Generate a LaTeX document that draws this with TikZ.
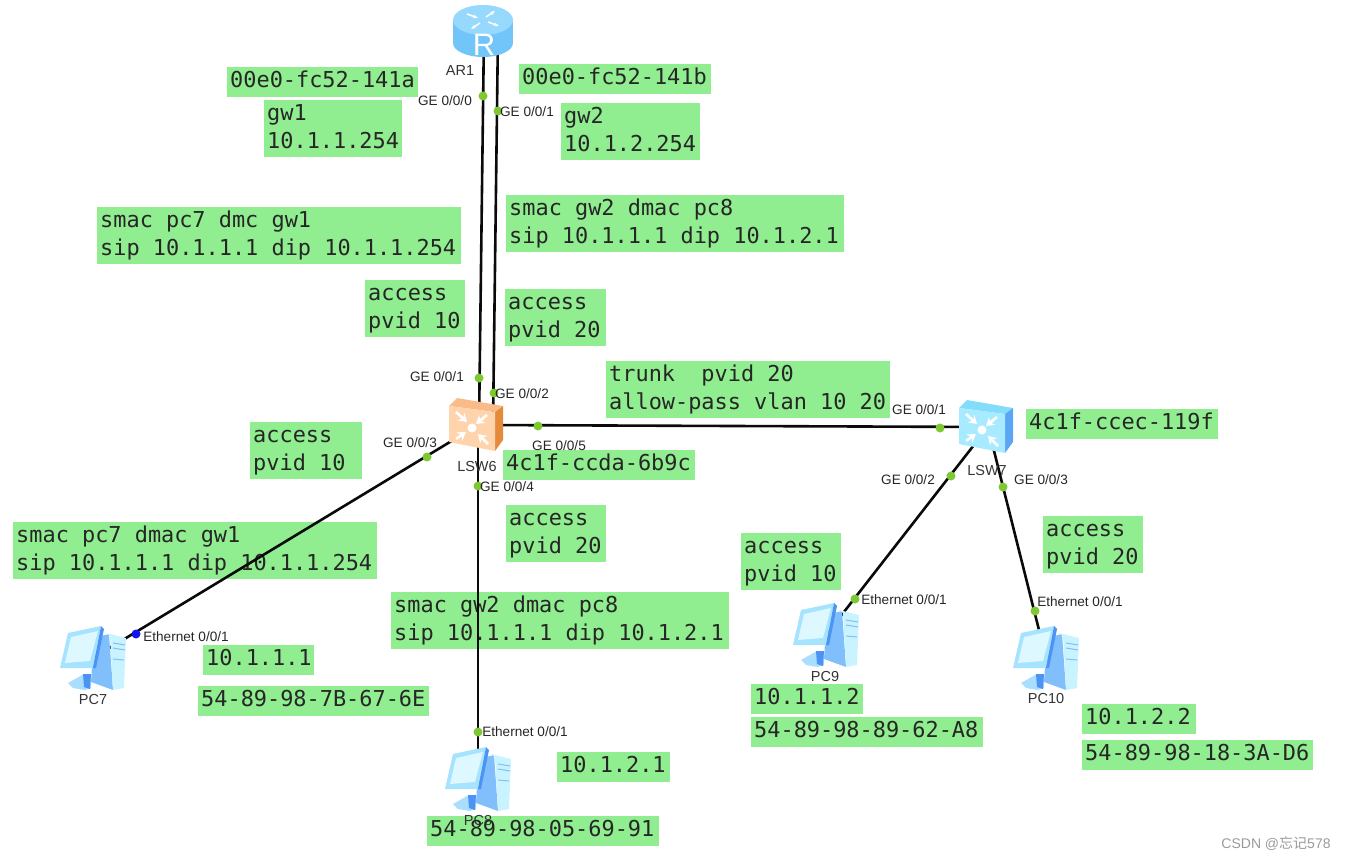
\documentclass[tikz,border=0pt]{standalone}
\usepackage{fontspec}
\setmainfont{Liberation Sans}
\newfontfamily\notefont[Scale=2.19]{DejaVu Sans Mono}
\newfontfamily\cjkfont{Noto Sans CJK SC}
\usetikzlibrary{arrows.meta}
\definecolor{notegreen}{HTML}{90EE90}
\definecolor{portgreen}{HTML}{7EC832}
\definecolor{portblue}{HTML}{1414E6}
\definecolor{linkblack}{HTML}{0A0A0A}
\definecolor{labelgray}{HTML}{9A9A9A}
\definecolor{routertop}{HTML}{96D9FC}
\definecolor{routerbody}{HTML}{72C5F8}
\definecolor{pcframe}{HTML}{A5E3FF}
\definecolor{pcscreen}{HTML}{DDF8FF}
\definecolor{pcedge}{HTML}{4D93F3}
\definecolor{pcside}{HTML}{80BFFB}
\definecolor{pcfront}{HTML}{C9F3FF}
\definecolor{pcbase}{HTML}{A9DEFF}
\definecolor{orfront}{HTML}{FFD3AC}
\definecolor{ortop}{HTML}{F9BC88}
\definecolor{orside}{HTML}{E58A3A}
\definecolor{cyfront}{HTML}{A8EAFF}
\definecolor{cytop}{HTML}{84DCFB}
\definecolor{cyside}{HTML}{5BA6F7}
\newcommand{\notestrut}{\vrule height 18pt depth 7pt width 0pt\relax}

\begin{document}
\begin{tikzpicture}[
    x=1pt, y=-1pt,
    note/.style={fill=notegreen, text=black!85, anchor=north west, align=flush left, text width=#1, inner xsep=3pt, inner ysep=0pt,
      font=\notefont\fontsize{10}{28}\selectfont, execute at begin node=\notestrut, execute at end node=\notestrut},
    oneline/.style={minimum height=30pt},
    twoline/.style={minimum height=57pt},
    device/.style={inner sep=0pt, minimum width=#1, minimum height=54pt},
    link/.style={draw=linkblack, line width=2.6pt},
    port/.style={circle, fill=portgreen, inner sep=0pt, minimum size=9pt},
    portlabel/.style={font=\fontsize{13.6}{15}\selectfont, text=black!85, inner sep=0pt},
    devlabel/.style={font=\fontsize{14.5}{16}\selectfont, text=black!80, inner sep=0pt},
    pics/routericon/.style={code={
      \fill[routerbody] (-30,-11) rectangle (30,12);
      \fill[routerbody] (0,12) ellipse[x radius=30, y radius=14];
      \fill[routertop] (0,-11) ellipse[x radius=30, y radius=15];
      \draw[white, line width=1.5pt, -{Stealth[length=5pt]}] (-16,-17) -- (-5,-13);
      \draw[white, line width=1.5pt, -{Stealth[length=5pt]}] (5,-9) -- (16,-5);
      \draw[white, line width=1.5pt, -{Stealth[length=5pt]}] (3,-14) -- (12,-20);
      \draw[white, line width=1.5pt, -{Stealth[length=5pt]}] (-3,-8) -- (-12,-2);
      \node[text=white, inner sep=0pt, font=\fontsize{31}{31}\selectfont] (r_mark) at (1,14) {R};
    }},
    pics/switchicon/.style n args={3}{code={
      \fill[#2] (-29,-19) -- (-21,-27) -- (25,-19) -- (17,-13) -- cycle;
      \fill[#3] (17,-13) -- (25,-19) -- (25,15) -- (17,26) -- cycle;
      \fill[#1] (-29,-19) -- (17,-13) -- (17,26) -- (-29,17) -- cycle;
      \draw[white, line width=2.6pt, -{Stealth[length=8pt, width=10pt]}] (-22,-13) -- (-11,-3);
      \draw[white, line width=2.6pt, -{Stealth[length=8pt, width=10pt]}] (9,-10) -- (-2,-1);
      \draw[white, line width=2.6pt, -{Stealth[length=8pt, width=10pt]}] (-22,14) -- (-12,7);
      \draw[white, line width=2.6pt, -{Stealth[length=8pt, width=10pt]}] (10,19) -- (0,9);
      \fill[white] (-6,3) circle[radius=4.5];
    }},
    pics/pcicon/.style={code={
      \fill[pcside] (8,-22) -- (16,-24) -- (20,32) -- (-2,24) -- (-1,8) -- cycle;
      \fill[pcfront] (13,-25) -- (33,-20) -- (31,30) -- (20,32) -- (17,-22) -- cycle;
      \draw[pcside, line width=1pt] (20,-15) -- (32,-13) (20,-10) -- (32,-8) (20,1) -- (31,2);
      \fill[pcbase] (-25,25) -- (-9,16) -- (-2,16) -- (-2,30) -- (-8,32) -- (-20,30) -- cycle;
      \fill[pcedge] (-10,16) -- (-2,16) -- (-3,31) -- (-9,29) -- cycle;
      \fill[pcframe] (-25,-25) -- (8,-32) -- (0,10) -- (-33,10) -- cycle;
      \fill[pcscreen] (-22,-21) -- (5,-27) -- (-3,3) -- (-28,5) -- cycle;
      \fill[pcedge] (8,-32) -- (11,-29) -- (3,10) -- (0,10) -- cycle;
    }}
  ]
    \useasboundingbox (0,0) rectangle (1346,861);

    % green notes
    \node[note=185pt, oneline] (mac_gw1) at (227,67) {00e0-fc52-141a};
    \node[note=132pt, twoline] (ip_gw1) at (264,100) {gw1\\10.1.1.254};
    \node[note=186pt, oneline] (mac_gw2) at (519,64) {00e0-fc52-141b};
    \node[note=133pt, twoline] (ip_gw2) at (561,103) {gw2\\10.1.2.254};
    \node[note=358pt, twoline] (frame_up) at (97,207) {smac pc7 dmc gw1\\sip 10.1.1.1 dip 10.1.1.254};
    \node[note=332pt, twoline] (frame_back) at (506,195) {smac gw2 dmac pc8\\sip 10.1.1.1 dip 10.1.2.1};
    \node[note=94pt, twoline] (vlan_g1) at (365,280) {access\\pvid 10};
    \node[note=95pt, twoline] (vlan_g2) at (505,289) {access\\pvid 20};
    \node[note=278pt, twoline] (vlan_g5) at (606,361) {trunk\ \ pvid 20\\allow-pass vlan 10 20};
    \node[note=186pt, oneline] (mac_lsw7) at (1026,409) {4c1f-ccec-119f};
    \node[note=106pt, twoline] (vlan_g3) at (250,422) {access\\pvid 10};
    \node[note=186pt, oneline] (mac_lsw6) at (503,450) {4c1f-ccda-6b9c};
    \node[note=94pt, twoline] (vlan_g4) at (506,505) {access\\pvid 20};
    \node[note=358pt, twoline] (frame_pc7) at (13,522) {smac pc7 dmac gw1\\sip 10.1.1.1 dip 10.1.1.254};
    \node[note=94pt, twoline] (vlan_pc9) at (741,533) {access\\pvid 10};
    \node[note=94pt, twoline] (vlan_pc10) at (1043,516) {access\\pvid 20};
    \node[note=332pt, twoline] (frame_pc8) at (391,592) {smac gw2 dmac pc8\\sip 10.1.1.1 dip 10.1.2.1};
    \node[note=105pt, oneline] (ip_pc7) at (203,645) {10.1.1.1};
    \node[note=225pt, oneline] (mac_pc7) at (198,686) {54-89-98-7B-67-6E};
    \node[note=106pt, oneline] (ip_pc9) at (751,684) {10.1.1.2};
    \node[note=226pt, oneline] (mac_pc9) at (751,717) {54-89-98-89-62-A8};
    \node[note=108pt, oneline] (ip_pc10) at (1082,704) {10.1.2.2};
    \node[note=225pt, oneline] (mac_pc10) at (1082,740) {54-89-98-18-3A-D6};
    \node[note=107pt, oneline] (ip_pc8) at (557,752) {10.1.2.1};
    \node[note=226pt, oneline] (mac_pc8) at (427,816) {54-89-98-05-69-91};

    % devices
    \node[device=60pt] (ar1) at (483,31) {};
    \node[device=54pt] (lsw6) at (478,425) {};
    \node[device=54pt] (lsw7) at (988,427) {};
    \node[device=66pt] (pc7) at (93,658) {};
    \node[device=66pt] (pc8) at (478,779) {};
    \node[device=66pt] (pc9) at (826,635) {};
    \node[device=66pt] (pc10) at (1046,658) {};

    % links
    \draw[link] ([xshift=1pt]ar1.center) -- ([xshift=1pt]lsw6.center);
    \draw[link] ([xshift=15pt]ar1.center) -- ([xshift=15pt]lsw6.center);
    \draw[link] (lsw6.center) -- (lsw7.center);
    \draw[link] (lsw6.center) -- (pc7.center);
    \draw[link] (lsw6.center) -- (pc8.center);
    \draw[link] (lsw7.center) -- (pc9.center);
    \draw[link] (lsw7.center) -- (pc10.center);

    \pic at (ar1) {routericon};
    \pic at (lsw6) {switchicon={orfront}{ortop}{orside}};
    \pic at (lsw7) {switchicon={cyfront}{cytop}{cyside}};
    \pic at (pc7) {pcicon};
    \pic at (pc8) {pcicon};
    \pic at (pc9) {pcicon};
    \pic at (pc10) {pcicon};

    % ports
    \node[port] (ar1_g0) at (483,96) {};
    \node[port] (ar1_g1) at (498,111) {};
    \node[port] (lsw6_g1) at (479,378) {};
    \node[port] (lsw6_g2) at (494,393) {};
    \node[port] (lsw6_g3) at (427,457) {};
    \node[port] (lsw6_g4) at (478,486) {};
    \node[port] (lsw6_g5) at (538,426) {};
    \node[port] (lsw7_g1) at (940,428) {};
    \node[port] (lsw7_g2) at (951,476) {};
    \node[port] (lsw7_g3) at (1003,487) {};
    \node[port, fill=portblue] (pc7_e) at (136,634) {};
    \node[port] (pc8_e) at (478,732) {};
    \node[port] (pc9_e) at (855,599) {};
    \node[port] (pc10_e) at (1035,611) {};

    \node[portlabel] (t_ar1_g0) at (445,101) {GE 0/0/0};
    \node[portlabel] (t_ar1_g1) at (527,112) {GE 0/0/1};
    \node[portlabel] (t_lsw6_g1) at (437,377) {GE 0/0/1};
    \node[portlabel] (t_lsw6_g2) at (522,394) {GE 0/0/2};
    \node[portlabel] (t_lsw6_g3) at (410,443) {GE 0/0/3};
    \node[portlabel] (t_lsw6_g4) at (507,487) {GE 0/0/4};
    \node[portlabel] (t_lsw6_g5) at (559,446) {GE 0/0/5};
    \node[portlabel] (t_lsw7_g1) at (919,410) {GE 0/0/1};
    \node[portlabel] (t_lsw7_g2) at (908,480) {GE 0/0/2};
    \node[portlabel] (t_lsw7_g3) at (1041,480) {GE 0/0/3};
    \node[portlabel] (t_pc7_e) at (186,637) {Ethernet 0/0/1};
    \node[portlabel] (t_pc8_e) at (525,732) {Ethernet 0/0/1};
    \node[portlabel] (t_pc9_e) at (904,600) {Ethernet 0/0/1};
    \node[portlabel] (t_pc10_e) at (1080,602) {Ethernet 0/0/1};

    \node[devlabel] (t_ar1) at (460,71) {AR1};
    \node[devlabel] (t_lsw6) at (477,467) {LSW6};
    \node[devlabel] (t_lsw7) at (987,471) {LSW7};
    \node[devlabel] (t_pc7) at (93,700) {PC7};
    \node[devlabel] (t_pc8) at (478,820) {PC8};
    \node[devlabel] (t_pc9) at (825,677) {PC9};
    \node[devlabel] (t_pc10) at (1046,699) {PC10};

    \node[text=labelgray, font=\fontsize{14}{16}\selectfont, inner sep=0pt] (mark) at (1276,844) {CSDN @{\cjkfont 忘记}578};
  \end{tikzpicture}
\end{document}
